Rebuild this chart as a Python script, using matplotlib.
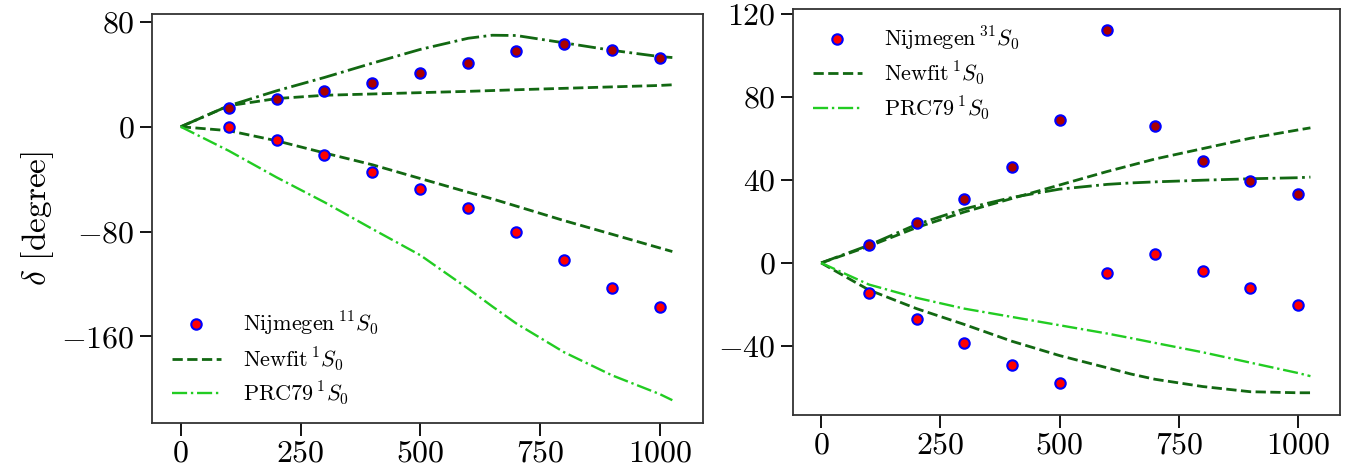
import matplotlib
matplotlib.use("Agg")
import matplotlib.pyplot as plt
import numpy as np

plt.rcParams["font.family"] = "serif"
plt.rcParams["font.serif"] = ["cmr10"]
plt.rcParams["mathtext.fontset"] = "cm"
plt.rcParams["axes.formatter.use_mathtext"] = True
plt.rcParams["axes.unicode_minus"] = True

# Nijmegen points (energy grid)
e_pts = [100, 200, 300, 400, 500, 600, 700, 800, 900, 1000]
nij11_up = [14.0, 21.0, 26.9, 33.5, 40.9, 49.0, 58.1, 62.9, 58.4, 52.5]
nij11_lo = [-0.5, -9.9, -21.8, -34.3, -47.5, -61.9, -80.0, -102.0, -122.8, -137.8]
nij31_up = [8.8, 19.2, 30.8, 46.0, 68.8, 111.9, 65.9, 48.9, 39.4, 33.3]
nij31_lo = [-14.7, -26.9, -38.6, -49.2, -57.7, -4.8, 4.2, -3.7, -12.0, -20.2]

# curves
e_line = [0, 100, 200, 300, 400, 500, 600, 650, 700, 800, 900, 1000, 1026]
newfit11_up = [0, 16.0, 21.5, 24.0, 25.0, 26.0, 27.0, 27.6, 28.2, 29.3, 30.4, 31.5, 32.0]
newfit11_lo = [0, -3.0, -10.7, -20.0, -29.0, -39.5, -50.0, -55.0, -60.5, -71.6, -82.0, -92.5, -95.2]
prc11_up = [0, 16.0, 27.4, 37.6, 48.5, 59.0, 67.5, 69.8, 69.6, 64.0, 58.3, 53.5, 52.8]
prc11_lo = [0, -18.3, -38.6, -57.6, -78.0, -98.0, -123.6, -137.0, -150.0, -172.0, -189.6, -204.0, -208.6]

newfit31_up = [0, 8.0, 17.0, 24.5, 31.0, 37.5, 44.0, 47.0, 50.0, 55.0, 60.0, 64.0, 65.0]
prc31_up = [0, 8.5, 18.5, 26.0, 31.5, 35.5, 37.8, 38.5, 39.0, 39.8, 40.5, 41.0, 41.3]
newfit31_lo = [0, -13.0, -22.0, -29.6, -37.7, -44.6, -50.5, -53.5, -56.0, -59.5, -62.0, -62.5, -62.5]
prc31_lo = [0, -10.4, -16.8, -22.0, -26.0, -30.0, -34.0, -36.2, -38.5, -43.0, -48.0, -53.0, -54.5]

dark = "#126812"
light = "#22cc22"

fig = plt.figure(figsize=(13.5, 4.75), dpi=100)
ax1 = fig.add_axes([152/1350, 1 - 423/475, 551/1350, 409/475])
ax2 = fig.add_axes([793/1350, 1 - 415/475, 547/1350, 406/475])

def draw(ax, up, lo, nf_up, nf_lo, pr_up, pr_lo, label):
    ax.plot(e_pts, lo, "o", ms=7.5, mfc="red", mec="blue", mew=1.5, label=label, zorder=4)
    ax.plot(e_pts, up, "o", ms=7.5, mfc="#aa0000", mec="blue", mew=1.5, zorder=4)
    ax.plot(e_line, nf_up, "--", color=dark, lw=2, label=r"Newfit$\,^{1}S_0$", zorder=3)
    ax.plot(e_line, nf_lo, "--", color=dark, lw=2, zorder=3)
    ax.plot(e_line, pr_up, "-.", color=dark, lw=2, zorder=3)
    ax.plot(e_line, pr_lo, "-.", color=light, lw=1.7, label=r"PRC79$\,^{1}S_0$", zorder=3)
    ax.set_xticks([0, 250, 500, 750, 1000])
    ax.tick_params(axis="both", labelsize=23, length=9, width=1.3, direction="out")
    for sp in ax.spines.values():
        sp.set_color("#333333")
        sp.set_linewidth(1.3)

draw(ax1, nij11_up, nij11_lo, newfit11_up, newfit11_lo, prc11_up, prc11_lo,
     r"Nijmegen$\,^{11}S_0$")
ax1.set_xlim(-60, 1090)
ax1.set_ylim(-226, 86)
ax1.set_yticks([-160, -80, 0, 80])
ax1.set_ylabel(r"$\delta$ [degree]", fontsize=24)
ax1.legend(loc="lower left", bbox_to_anchor=(0.0, -0.01), fontsize=16, frameon=False,
           handlelength=2.2, handletextpad=1.0, labelspacing=0.3)

draw(ax2, nij31_up, nij31_lo, newfit31_up, newfit31_lo, prc31_up, prc31_lo,
     r"Nijmegen$\,^{31}S_0$")
ax2.set_xlim(-59, 1088)
ax2.set_ylim(-73.2, 122.2)
ax2.set_yticks([-40, 0, 40, 80, 120])
ax2.legend(loc="upper left", bbox_to_anchor=(0.0, 1.01), fontsize=16, frameon=False,
           handlelength=2.2, handletextpad=1.0, labelspacing=0.3)

fig.savefig("out.png", dpi=100)
